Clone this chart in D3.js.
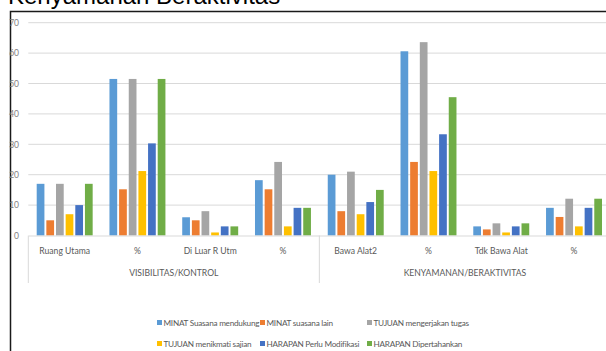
<!DOCTYPE html>
<html>
<head>
<meta charset="utf-8">
<script src="https://cdn.jsdelivr.net/npm/d3@7"></script>
<style>
  html, body { margin: 0; padding: 0; background: #fff; overflow: hidden; }
  svg { display: block; }
</style>
</head>
<body>
<svg id="chart" width="606" height="351"></svg>
<script>
// Categories (two-level axis) and series
const categories = ["Ruang Utama", "%", "Di Luar R Utm", "%", "Bawa Alat2", "%", "Tdk Bawa Alat", "%"];
const groups = ["VISIBILITAS/KONTROL", "KENYAMANAN/BERAKTIVITAS"];
const seriesNames = [
  "MINAT Suasana mendukung", "MINAT suasana lain", "TUJUAN mengerjakan tugas",
  "TUJUAN menikmati sajian", "HARAPAN Perlu Modifikasi", "HARAPAN Dipertahankan"
];
const seriesColors = ["#5B9BD5", "#ED7D31", "#A5A5A5", "#FFC000", "#4472C4", "#70AD47"];

// One array per series, values in category order
const minatMendukung   = [17, 51.5, 6, 18.2, 20, 60.6, 3, 9.1];
const minatLain        = [5, 15.2, 5, 15.2, 8, 24.2, 2, 6.1];
const tujuanTugas      = [17, 51.5, 8, 24.2, 21, 63.6, 4, 12.1];
const tujuanSajian     = [7, 21.2, 1, 3.0, 7, 21.2, 1, 3.0];
const harapanModifikasi= [10, 30.3, 3, 9.1, 11, 33.3, 3, 9.1];
const harapanTetap     = [17, 51.5, 3, 9.1, 15, 45.5, 4, 12.1];
const seriesValues = [minatMendukung, minatLain, tujuanTugas, tujuanSajian, harapanModifikasi, harapanTetap];

const yTicks = [0, 10, 20, 30, 40, 50, 60, 70];

const svg = d3.select("#chart");
const font = "Lato, 'Open Sans', sans-serif";

// Title (partly above the visible area)
svg.append("text")
  .attr("x", 8).attr("y", 4)
  .attr("font-family", "'Liberation Sans', Arial, sans-serif")
  .attr("font-size", 24)
  .attr("fill", "#000")
  .text("Kenyamanan Beraktivitas");

// Chart frame
svg.append("rect")
  .attr("x", 10.5).attr("y", 11.5)
  .attr("width", 640).attr("height", 400)
  .attr("fill", "#fff")
  .attr("stroke", "#1a1a1a").attr("stroke-width", 1.5);

const plotLeft = 28.3, plotRight = 610.4;
const x = d3.scaleBand().domain(d3.range(categories.length)).range([plotLeft, plotRight]).padding(0);
const inner = d3.scaleBand().domain(d3.range(seriesNames.length))
  .range([8.4, x.bandwidth() - 8.4]).paddingInner(0.2).paddingOuter(0);
const y = d3.scaleLinear().domain([0, 70]).range([235.5, 22.7]);

// Gridlines
svg.append("g").selectAll("line").data(yTicks.filter(d => d > 0)).join("line")
  .attr("x1", plotLeft).attr("x2", plotRight)
  .attr("y1", d => y(d)).attr("y2", d => y(d))
  .attr("stroke", "#d9d9d9").attr("stroke-width", 1);

// Y axis labels
const yAxis = d3.axisLeft(y).tickValues(yTicks).tickSize(0).tickPadding(0);
const yg = svg.append("g").attr("transform", "translate(19,0)").call(yAxis);
yg.select(".domain").remove();
yg.selectAll("text").attr("font-family", font).attr("font-size", 8.5).attr("fill", "#7f7f7f");

// Bars
const cat = svg.append("g").selectAll("g").data(categories.map((c, i) => i)).join("g")
  .attr("transform", i => `translate(${x(i)},0)`);
cat.selectAll("rect").data(i => seriesValues.map((vals, s) => ({ s, v: vals[i] }))).join("rect")
  .attr("x", d => inner(d.s))
  .attr("width", inner.bandwidth())
  .attr("y", d => y(d.v))
  .attr("height", d => y(0) - y(d.v))
  .attr("fill", d => seriesColors[d.s]);

// Category axis
const xAxis = d3.axisBottom(x).tickFormat(i => categories[i]).tickSize(0).tickPadding(12);
const xg = svg.append("g").attr("transform", `translate(0,${y(0)})`).call(xAxis);
xg.select(".domain").attr("stroke", "#d9d9d9");
xg.selectAll("text").attr("font-family", font).attr("font-size", 8.6).attr("fill", "#595959");

// Group dividers and group labels
const groupEdges = [0, 4, 8].map(i => i < 8 ? x(i) : plotRight);
svg.append("g").selectAll("line").data(groupEdges).join("line")
  .attr("x1", d => d).attr("x2", d => d)
  .attr("y1", y(0)).attr("y2", 283)
  .attr("stroke", "#d9d9d9").attr("stroke-width", 1);
svg.append("g").selectAll("text").data(groups).join("text")
  .attr("x", (g, i) => (groupEdges[i] + groupEdges[i + 1]) / 2)
  .attr("y", 276)
  .attr("text-anchor", "middle")
  .attr("font-family", font).attr("font-size", 8.6).attr("fill", "#595959")
  .text(d => d);

// Legend (two rows of three)
const legendCols = [157, 260, 367];
const legendRows = [323, 344];
const lg = svg.append("g").selectAll("g").data(seriesNames).join("g")
  .attr("transform", (d, i) => `translate(${legendCols[i % 3]},${legendRows[Math.floor(i / 3)]})`);
lg.append("rect").attr("x", 0).attr("y", -3).attr("width", 5).attr("height", 5)
  .attr("fill", (d, i) => seriesColors[i]);
lg.append("text").attr("x", 6.5).attr("y", 2.8)
  .attr("font-family", font).attr("font-size", 8.2).attr("letter-spacing", -0.25)
  .attr("fill", "#595959")
  .text(d => d);
</script>
</body>
</html>
